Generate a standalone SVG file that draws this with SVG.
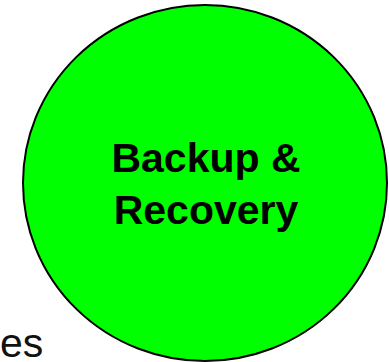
<svg xmlns="http://www.w3.org/2000/svg" width="389" height="362" viewBox="0 0 389 362">
  <style>
    .node-shape { fill: #00ff00; stroke: #000000; stroke-width: 2; }
    .node-label { font-family: "Liberation Sans", Arial, sans-serif; font-weight: bold; font-size: 41px; fill: #000000; text-anchor: middle; }
    .side-label { font-family: "Liberation Sans", Arial, sans-serif; font-size: 41px; fill: #111111; }
  </style>
  <rect width="389" height="362" fill="#ffffff"/>
  <g id="connectors"></g>
  <g id="side-text">
    <text class="side-label" x="0" y="357">es</text>
  </g>
  <g id="backup-recovery">
    <ellipse class="node-shape" cx="205" cy="183" rx="182" ry="178"/>
    <text class="node-label" x="206" y="172">Backup &amp;</text>
    <text class="node-label" x="206" y="224">Recovery</text>
  </g>
</svg>
